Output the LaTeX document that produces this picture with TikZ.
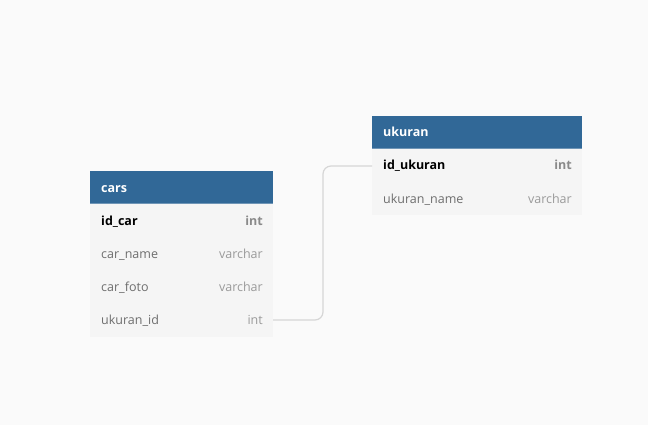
\documentclass[tikz,border=0pt]{standalone}
\usepackage{fontspec}
\setmainfont{Open Sans}
\definecolor{bg}{HTML}{FAFAFA}
\definecolor{hdr}{HTML}{316897}
\definecolor{rowbg}{HTML}{F5F5F5}
\definecolor{fld}{HTML}{6E6E6E}
\definecolor{typ}{HTML}{9A9A9A}
\definecolor{keytyp}{HTML}{8A8A8A}
\definecolor{conn}{HTML}{D6D6D6}
\tikzset{
  hdrbox/.style={fill=hdr, draw=none},
  rowbox/.style={fill=rowbg, draw=none},
  hdrtext/.style={anchor=base west, text=white, font=\fontsize{12.5pt}{15pt}\selectfont\bfseries, inner sep=0pt},
  keyname/.style={anchor=base west, text=black, font=\fontsize{12.5pt}{15pt}\selectfont\bfseries, inner sep=0pt},
  keytype/.style={anchor=base east, text=keytyp, font=\fontsize{12.5pt}{15pt}\selectfont\bfseries, inner sep=0pt},
  fldname/.style={anchor=base west, text=fld, font=\fontsize{12.5pt}{15pt}\selectfont, inner sep=0pt},
  fldtype/.style={anchor=base east, text=typ, font=\fontsize{12.5pt}{15pt}\selectfont, inner sep=0pt},
  connector/.style={draw=conn, line width=1.2pt, rounded corners=8pt}
}
\begin{document}
\begin{tikzpicture}[x=1pt,y=-1pt]
\fill[bg] (0,0) rectangle (648,425);
\useasboundingbox (0,0) rectangle (648,425);
% cars table
\fill[rowbox] (90,204) rectangle (273,337);
\fill[hdrbox] (90,171) rectangle (273,204);
\draw[hdr!70!white, line width=0.8pt] (90,203.6) -- (273,203.6);
\node[hdrtext] (carsT) at (101,192) {cars};
\node[keyname] (c1n) at (101,225) {id\_car};
\node[keytype] (c1t) at (263,225) {int};
\node[fldname] (c2n) at (101,258) {car\_name};
\node[fldtype] (c2t) at (263,258) {varchar};
\node[fldname] (c3n) at (101,291) {car\_foto};
\node[fldtype] (c3t) at (263,291) {varchar};
\node[fldname] (c4n) at (101,324) {ukuran\_id};
\node[fldtype] (c4t) at (263,324) {int};
\coordinate (carsR) at (273,320);
% ukuran table
\fill[rowbox] (372,149) rectangle (582,215);
\fill[hdrbox] (372,116) rectangle (582,149);
\draw[hdr!70!white, line width=0.8pt] (372,148.6) -- (582,148.6);
\node[hdrtext] (ukT) at (383,137) {ukuran};
\node[keyname] (u1n) at (383,170) {id\_ukuran};
\node[keytype] (u1t) at (572,170) {int};
\node[fldname] (u2n) at (383,203) {ukuran\_name};
\node[fldtype] (u2t) at (572,203) {varchar};
\coordinate (ukL) at (372,166);
% connector
\draw[connector] (carsR) -- (323,320) -- (323,166) -- (ukL);
\end{tikzpicture}
\end{document}
